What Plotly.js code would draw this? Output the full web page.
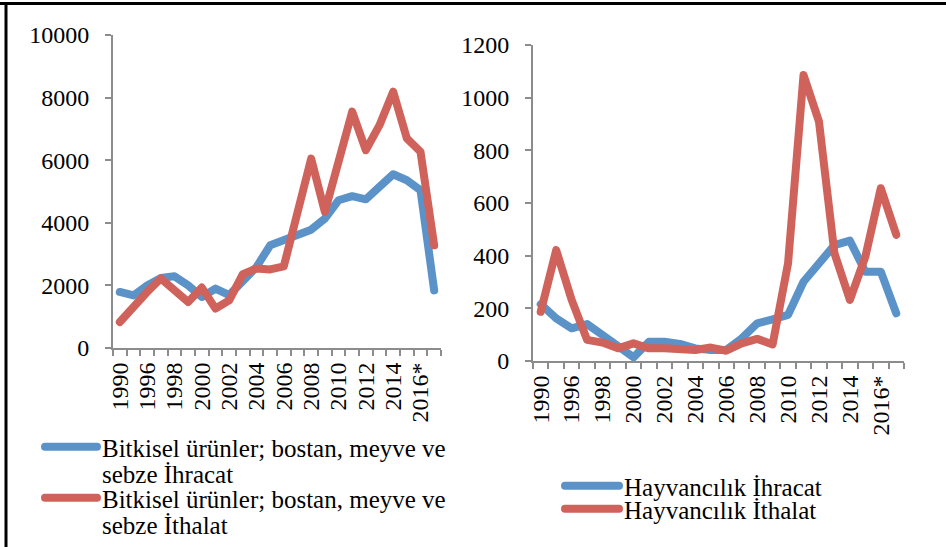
<!DOCTYPE html>
<html>
<head>
<meta charset="utf-8">
<script src="https://cdn.plot.ly/plotly-3.0.1.min.js"></script>
<style>
html,body{margin:0;padding:0;background:#fff;}
#chart{width:946px;height:547px;}
.js-line{stroke-linejoin:round;stroke-linecap:round;}
</style>
</head>
<body>
<div id="chart"></div>
<script>
var categories = ["1990","1995","1996","1997","1998","1999","2000","2001","2002","2003","2004","2005","2006","2007","2008","2009","2010","2011","2012","2013","2014","2015","2016*","2017*"];
var tickLabels = ["1990","","1996","","1998","","2000","","2002","","2004","","2006","","2008","","2010","","2012","","2014","","2016*",""];

var bitkiselIhracat = [1790,1680,2000,2240,2290,2000,1630,1900,1690,2110,2590,3280,3460,3650,3780,4130,4720,4850,4750,5150,5550,5360,5040,1840];
var bitkiselIthalat = [830,1360,1790,2220,1870,1470,1930,1260,1520,2360,2540,2510,2610,4300,6050,4350,5950,7550,6320,7120,8190,6700,6270,3280];

var hayvanIhracat = [216,162,124,140,99,54,14,73,73,65,48,42,42,86,143,158,175,301,365,440,457,339,339,181];
var hayvanIthalat = [187,421,232,80,70,48,67,48,48,42,42,51,39,67,84,63,371,1086,909,409,232,396,656,479];

var BLUE = "#5B93C9", RED = "#CF635B";
var FONT = "Liberation Serif, Times New Roman, serif";

var traces = [
  {x: categories, y: bitkiselIhracat, type: "scatter", mode: "lines", name: "Bitkisel ürünler; bostan, meyve ve<br>sebze İhracat",
   line: {color: BLUE, width: 8}, xaxis: "x", yaxis: "y", legend: "legend"},
  {x: categories, y: bitkiselIthalat, type: "scatter", mode: "lines", name: "Bitkisel ürünler; bostan, meyve ve<br>sebze İthalat",
   line: {color: RED, width: 8}, xaxis: "x", yaxis: "y", legend: "legend3"},
  {x: categories, y: hayvanIhracat, type: "scatter", mode: "lines", name: "Hayvancılık İhracat",
   line: {color: BLUE, width: 8}, xaxis: "x2", yaxis: "y2", legend: "legend2"},
  {x: categories, y: hayvanIthalat, type: "scatter", mode: "lines", name: "Hayvancılık İthalat",
   line: {color: RED, width: 8}, xaxis: "x2", yaxis: "y2", legend: "legend4"}
];

var W = 946, H = 547;
function px(x){return x / W;}
function py(y){return 1 - y / H;}

var xCommon = {
  type: "category", range: [-0.5, 23.5], showline: true, linecolor: "#8c8c8c", linewidth: 2,
  ticks: "outside", ticklen: 6, tickwidth: 2, tickcolor: "#8c8c8c", tickson: "boundaries",
  tickmode: "array", tickvals: categories, ticktext: tickLabels, tickangle: -90,
  tickfont: {family: FONT, size: 24, color: "#000"}, showgrid: false, zeroline: false,
  ticklabelstandoff: 3, fixedrange: true
};
var yCommon = {
  showline: true, linecolor: "#8c8c8c", linewidth: 2, ticks: "outside", ticklen: 6, tickwidth: 2,
  tickcolor: "#8c8c8c", tickfont: {family: FONT, size: 24, color: "#000"}, showgrid: false,
  zeroline: false, ticklabelstandoff: 11, tickformat: "d", fixedrange: true
};

function leg(xp, yp, w){
  return {x: px(xp), y: py(yp), xanchor: "left", yanchor: "top", bgcolor: "rgba(0,0,0,0)",
          font: {family: FONT, size: 25, color: "#000"}, itemwidth: w, valign: "top", tracegroupgap: 0};
}

var layout = {
  width: W, height: H, margin: {l: 0, r: 0, t: 0, b: 0, autoexpand: false},
  paper_bgcolor: "#fff", plot_bgcolor: "#fff", showlegend: true,
  font: {family: FONT, color: "#000"},
  xaxis: Object.assign({}, xCommon, {domain: [px(113), px(441)], anchor: "y"}),
  yaxis: Object.assign({}, yCommon, {domain: [py(348), py(35)], range: [0, 10000], dtick: 2000, anchor: "x"}),
  xaxis2: Object.assign({}, xCommon, {domain: [px(533), px(904)], anchor: "y2"}),
  yaxis2: Object.assign({}, yCommon, {domain: [py(361), py(45)], range: [0, 1200], dtick: 200, anchor: "x2"}),
  legend: leg(40, 424, 52),
  legend3: leg(40, 475, 52),
  legend2: leg(560, 463, 54),
  legend4: leg(560, 486, 54),
  shapes: [
    {type: "line", xref: "paper", yref: "paper", x0: 0, x1: 1, y0: py(3.5), y1: py(3.5), line: {color: "#000", width: 3}},
    {type: "line", xref: "paper", yref: "paper", x0: px(6), x1: px(6), y0: -0.05, y1: py(2), line: {color: "#000", width: 3}}
  ]
};

function tightenLegend(){
  var spans = document.querySelectorAll("tspan");
  for (var i = 0; i < spans.length; i++){
    if (spans[i].getAttribute("dy") === "1.3em") spans[i].setAttribute("dy", "1.05em");
  }
}

var gd = document.getElementById("chart");
var obs = new MutationObserver(tightenLegend);
obs.observe(document.body, {subtree: true, childList: true, attributes: true, attributeFilter: ["dy"]});
Plotly.newPlot(gd, traces, layout, {displayModeBar: false, staticPlot: true}).then(function(){
  tightenLegend();
  requestAnimationFrame(tightenLegend);
  setTimeout(tightenLegend, 100);
});
</script>
</body>
</html>
